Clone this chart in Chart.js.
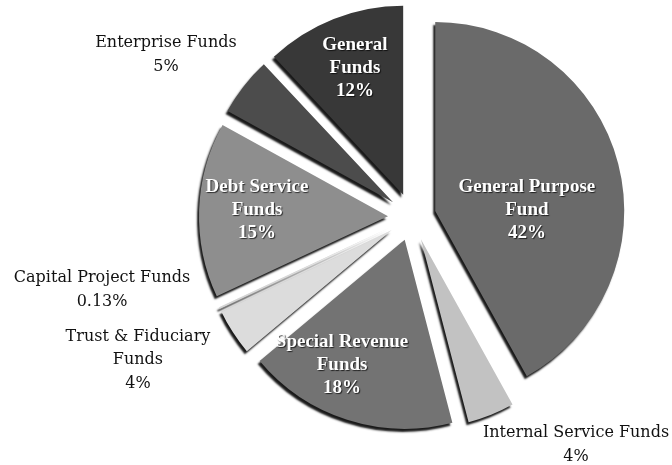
<!DOCTYPE html>
<html>
<head>
<meta charset="utf-8">
<script src="https://cdn.jsdelivr.net/npm/chart.js@4"></script>
<style>
  html, body { margin: 0; padding: 0; background: #fff; }
  #wrap { width: 672px; height: 465px; }
</style>
</head>
<body>
<div id="wrap"><canvas id="fondos"></canvas></div>
<script>
// fund names (split the way the labels wrap) and their share in %
const categorias = [
  ["General Purpose", "Fund"],
  ["Internal Service Funds"],
  ["Special Revenue", "Funds"],
  ["Trust & Fiduciary", "Funds"],
  ["Capital Project Funds"],
  ["Debt Service", "Funds"],
  ["Enterprise Funds"],
  ["General", "Funds"]
];
const porcentajes = [42, 4, 18, 4, 0.13, 15, 5, 12];
const colores = ["#6a6a6a", "#c2c2c2", "#737373", "#dcdcdc", "#d4d4d4", "#8e8e8e", "#4c4c4c", "#383838"];

// label style: inside (white bold) or outside (black) + anchor relative to pie centre, in radii
const dentro = [true, false, true, false, false, true, false, true];
const anclas = [
  [0.608, -0.037], [0.868, 1.206], [-0.370, 0.783], [-1.450, 0.757],
  [-1.640, 0.386], [-0.820, -0.037], [-1.302, -0.857], [-0.302, -0.788]
];

const SEPARACION = 24; // how far every slice is pulled out

const explotar = {
  id: "explotar",
  afterDatasetUpdate(chart, args) {
    args.meta.data.forEach((arc) => {
      const mitad = (arc.startAngle + arc.endAngle) / 2;
      arc.x += Math.cos(mitad) * SEPARACION;
      arc.y += Math.sin(mitad) * SEPARACION;
    });
  },
  beforeDatasetDraw(chart) {
    const ctx = chart.ctx;
    ctx.save();
    ctx.shadowColor = "rgba(0,0,0,0.9)";
    ctx.shadowOffsetX = -2;
    ctx.shadowOffsetY = 3;
    ctx.shadowBlur = 2;
  },
  afterDatasetDraw(chart) {
    chart.ctx.restore();
  }
};

const etiquetas = {
  id: "etiquetas",
  afterDraw(chart) {
    const ctx = chart.ctx;
    const arcs = chart.getDatasetMeta(0).data;
    const r = arcs[0].outerRadius;
    // pie centre = arc position without the explode shift
    const a0 = arcs[0];
    const m0 = (a0.startAngle + a0.endAngle) / 2;
    const cx = a0.x - Math.cos(m0) * SEPARACION;
    const cy = a0.y - Math.sin(m0) * SEPARACION;

    ctx.save();
    ctx.textAlign = "center";
    ctx.textBaseline = "middle";
    categorias.forEach((lineas, i) => {
      const texto = lineas.concat([porcentajes[i] + "%"]);
      const x = cx + anclas[i][0] * r;
      const y = cy + anclas[i][1] * r;
      const alto = dentro[i] ? 23 : 23.5;
      const y0 = y - (texto.length - 1) * alto / 2;
      if (dentro[i]) {
        ctx.font = "bold 19px 'Liberation Serif', serif";
        ctx.fillStyle = "#ffffff";
        ctx.shadowColor = "rgba(0,0,0,0.7)";
        ctx.shadowOffsetX = 1;
        ctx.shadowOffsetY = 1;
        ctx.shadowBlur = 1;
      } else {
        ctx.font = "16px 'DejaVu Serif', serif";
        ctx.fillStyle = "#111111";
        ctx.shadowColor = "transparent";
      }
      texto.forEach((t, k) => ctx.fillText(t, x, y0 + k * alto));
    });
    ctx.restore();
  }
};

new Chart(document.getElementById("fondos").getContext("2d"), {
  type: "pie",
  data: {
    labels: categorias.map((l) => l.join(" ")),
    datasets: [{
      data: porcentajes,
      backgroundColor: colores,
      borderWidth: 0
    }]
  },
  options: {
    responsive: true,
    maintainAspectRatio: false,
    animation: false,
    radius: 189,
    layout: { padding: { left: 152, right: 0, top: 0, bottom: 31 } },
    plugins: {
      legend: { display: false },
      tooltip: { enabled: false }
    }
  },
  plugins: [explotar, etiquetas]
});
</script>
</body>
</html>
